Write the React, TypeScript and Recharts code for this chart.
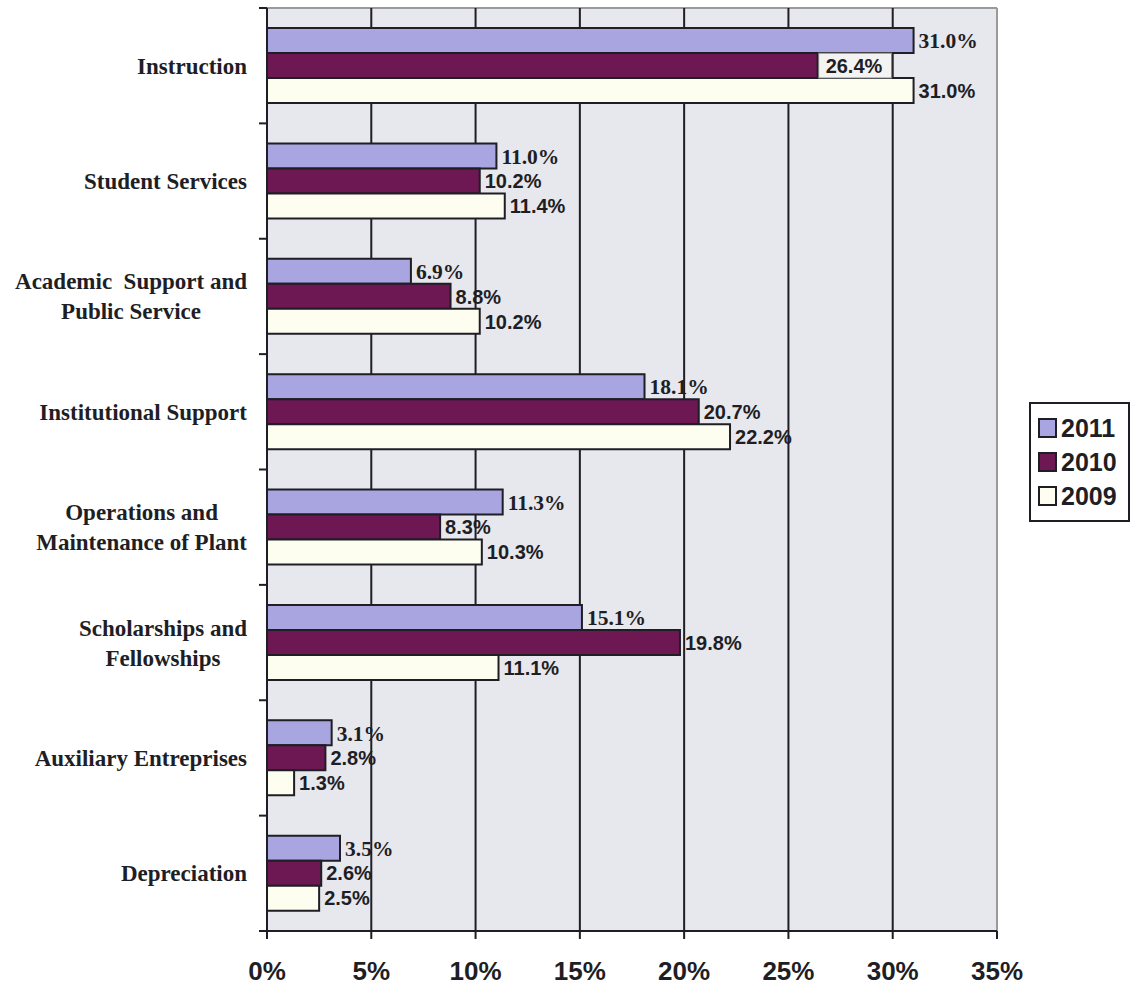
import { BarChart, Bar, XAxis, YAxis, CartesianGrid, LabelList, Legend } from 'recharts'

// values (share of expenses, %)
const CATEGORIES = [
  'Instruction',
  'Student Services',
  'Academic Support and Public Service',
  'Institutional Support',
  'Operations and Maintenance of Plant',
  'Scholarships and Fellowships',
  'Auxiliary Entreprises',
  'Depreciation',
]
const CATEGORY_LINES = [
  ['Instruction'],
  ['Student Services'],
  ['Academic  Support and', 'Public Service'],
  ['Institutional Support'],
  ['Operations and', 'Maintenance of Plant'],
  ['Scholarships and', 'Fellowships'],
  ['Auxiliary Entreprises'],
  ['Depreciation'],
]
const YEARS = ['2011', '2010', '2009']
const Y2011 = [31.0, 11.0, 6.9, 18.1, 11.3, 15.1, 3.1, 3.5]
const Y2010 = [26.4, 10.2, 8.8, 20.7, 8.3, 19.8, 2.8, 2.6]
const Y2009 = [31.0, 11.4, 10.2, 22.2, 10.3, 11.1, 1.3, 2.5]
const X_TICKS = [0, 5, 10, 15, 20, 25, 30, 35]
const BOXED_2010 = ['Instruction']

const W = 1130
const H = 985
const PLOT = { left: 267, top: 8, right: 997, bottom: 931 }
const BAND = (PLOT.bottom - PLOT.top) / CATEGORIES.length

const SERIF = "'Liberation Serif', 'Times New Roman', serif"
const SANS = "'Liberation Sans', Arial, sans-serif"
const INK = '#1e1e24'

const data = CATEGORIES.map((name, i) => ({
  name,
  y2011: Y2011[i],
  y2010: Y2010[i],
  y2009: Y2009[i],
}))

let ctx: CanvasRenderingContext2D | null = null
const measure = (s: string, font: string) => {
  if (!ctx) ctx = document.createElement('canvas').getContext('2d')
  if (!ctx) return s.length * 10
  ctx.font = font
  return ctx.measureText(s).width
}

const CategoryTick = ({ x, y, payload }: any) => {
  const i = CATEGORIES.indexOf(payload.value)
  const lines = CATEGORY_LINES[i] || [payload.value]
  const font = `bold 23px ${SERIF}`
  const block = Math.max(...lines.map(l => measure(l, font)))
  const cx = x - 12 - block / 2
  const lh = 30
  const y0 = y - ((lines.length - 1) * lh) / 2
  return (
    <g>
      <line x1={x} x2={x + 8} y1={y - BAND / 2} y2={y - BAND / 2} stroke={INK} strokeWidth={2} />
      {i === CATEGORIES.length - 1 && (
        <line x1={x} x2={x + 8} y1={y + BAND / 2} y2={y + BAND / 2} stroke={INK} strokeWidth={2} />
      )}
      {lines.map((l, k) => (
        <text key={k} x={cx} y={y0 + k * lh} dy="0.35em" textAnchor="middle"
          fontFamily={SERIF} fontWeight="bold" fontSize={23} fill={INK} style={{ whiteSpace: 'pre' }}>
          {l}
        </text>
      ))}
    </g>
  )
}

const makeLabel = (serif: boolean, boxed: string[] = []) => (props: any) => {
  const { x, y, width, height, value, index } = props
  const ex = Number(x) + Number(width)
  const cy = Number(y) + Number(height) / 2
  const box = boxed.includes(CATEGORIES[index])
  return (
    <g>
      {box && <rect x={ex + 1} y={y} width={73} height={height} fill="#f3f3f3" stroke="#777" strokeWidth={1} />}
      <text x={ex + (box ? 8 : 5)} y={cy} dy="0.36em"
        fontFamily={serif ? SERIF : SANS} fontWeight="bold" fontSize={serif ? 21.5 : 20} fill={INK}>
        {`${Number(value).toFixed(1)}%`}
      </text>
    </g>
  )
}

const LegendBox = ({ payload }: any) => {
  const items = [...(payload || [])].sort(
    (a: any, b: any) => YEARS.indexOf(String(a.value)) - YEARS.indexOf(String(b.value)),
  )
  return (
    <div style={{
      border: `2px solid ${INK}`, background: '#fff', width: 101, height: 120,
      boxSizing: 'border-box', padding: '7px 0 0 7px',
    }}>
      {items.map((p: any) => (
        <div key={p.value} style={{ display: 'flex', alignItems: 'center', height: 34 }}>
          <span style={{
            display: 'inline-block', width: 15, height: 16, background: p.payload?.fill ?? p.color,
            border: `2px solid ${INK}`, marginRight: 4,
          }} />
          <span style={{ fontFamily: SANS, fontWeight: 'bold', fontSize: 25, color: INK }}>{p.value}</span>
        </div>
      ))}
    </div>
  )
}

export default function App() {
  return (
    <div style={{ position: 'absolute', left: 0, top: 0, width: W, height: H, background: '#fff' }}>
      <BarChart
        width={W}
        height={H}
        data={data}
        layout="vertical"
        margin={{ top: PLOT.top, right: W - PLOT.right, bottom: 0, left: 0 }}
        barCategoryGap="17.4%"
        barGap={0}
      >
        <CartesianGrid
          fill="#e7e7ee"
          horizontalPoints={[PLOT.top]}
          horizontal={(p: any) => (
            <line key={p.key} x1={p.x1} x2={p.x2} y1={p.y1} y2={p.y2} stroke="#9a9a9a" strokeWidth={2} />
          )}
          vertical={(p: any) => (
            <line key={p.key} x1={p.x1} x2={p.x2} y1={p.y1} y2={p.y2}
              stroke={Math.abs(p.x1 - PLOT.right) < 2 ? '#9a9a9a' : INK} strokeWidth={2} />
          )}
        />
        <XAxis
          type="number"
          domain={[0, 35]}
          ticks={X_TICKS}
          tickFormatter={(v: number) => `${v}%`}
          height={H - PLOT.bottom}
          axisLine={{ stroke: INK, strokeWidth: 2 }}
          tickLine={{ stroke: INK, strokeWidth: 2 }}
          tickSize={8}
          tickMargin={23}
          tick={{ fontFamily: SANS, fontWeight: 'bold', fontSize: 26, fill: INK }}
          interval={0}
        />
        <YAxis
          type="category"
          dataKey="name"
          width={PLOT.left}
          axisLine={{ stroke: INK, strokeWidth: 2 }}
          tickLine={false}
          tickSize={8}
          tickMargin={0}
          tick={<CategoryTick />}
          interval={0}
        />
        <Legend
          layout="vertical"
          align="center"
          verticalAlign="middle"
          content={<LegendBox />}
          wrapperStyle={{ left: 1029, top: 402, width: 101, height: 120 }}
        />
        <Bar dataKey="y2011" name={YEARS[0]} fill="#a9a5e0" stroke={INK} strokeWidth={2} isAnimationActive={false}>
          <LabelList dataKey="y2011" content={makeLabel(true)} />
        </Bar>
        <Bar dataKey="y2010" name={YEARS[1]} fill="#6d1753" stroke={INK} strokeWidth={2} isAnimationActive={false}>
          <LabelList dataKey="y2010" content={makeLabel(false, BOXED_2010)} />
        </Bar>
        <Bar dataKey="y2009" name={YEARS[2]} fill="#fdfdf0" stroke={INK} strokeWidth={2} isAnimationActive={false}>
          <LabelList dataKey="y2009" content={makeLabel(false)} />
        </Bar>
      </BarChart>
    </div>
  )
}
